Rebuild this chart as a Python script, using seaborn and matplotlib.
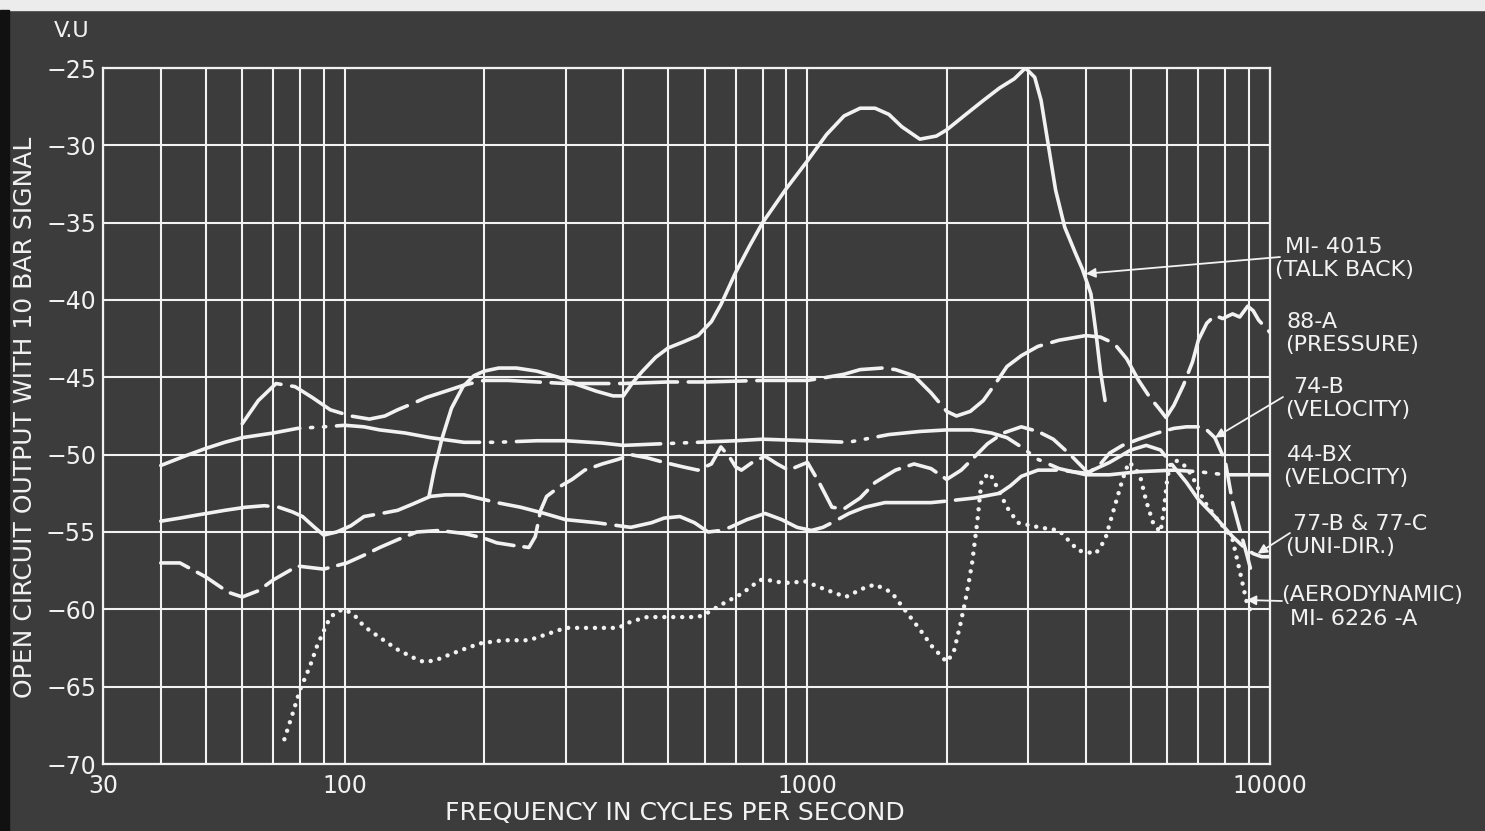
import numpy as np
import pandas as pd
import matplotlib
matplotlib.use("Agg")
import matplotlib.pyplot as plt
import seaborn as sns
from matplotlib.patches import Rectangle

# colours of the old photostat
BG = "#3c3c3c"
INK = "#f2f2f2"

# ---- data (frequency in c/s, output in V.U) ----
mi4015_f = [152, 156, 162, 170, 180, 190, 200, 215, 235, 260, 290, 320, 350, 380, 400, 420, 440,
            470, 500, 540, 580, 620, 650, 700, 750, 800, 900, 1000, 1100, 1200, 1300, 1400, 1500,
            1600, 1750, 1900, 2000, 2200, 2400, 2600, 2800, 2960, 3100, 3200, 3330, 3440, 3600,
            3800, 3930, 4100, 4200, 4300, 4400]
mi4015_v = [-52.7, -51.0, -49.0, -47.0, -45.6, -44.9, -44.6, -44.4, -44.4, -44.6, -45.0, -45.5,
            -45.9, -46.2, -46.2, -45.3, -44.6, -43.7, -43.1, -42.7, -42.3, -41.4, -40.3, -38.2,
            -36.5, -35.0, -32.8, -31.0, -29.3, -28.1, -27.6, -27.6, -28.0, -28.8, -29.6, -29.4,
            -29.0, -28.0, -27.1, -26.3, -25.7, -25.0, -25.6, -27.1, -30.3, -32.9, -35.3, -37.0,
            -38.0, -39.6, -42.0, -44.6, -46.5]

a88_f = [60, 65, 71, 78, 85, 93, 103, 113, 122, 130, 140, 150, 165, 181, 200, 225, 260, 300, 400,
         500, 600, 800, 1000, 1100, 1200, 1300, 1450, 1550, 1700, 1850, 2000, 2100, 2250, 2400,
         2550, 2700, 2900, 3150, 3500, 4000, 4300, 4600, 4900, 5200, 5500, 5750, 5960, 6200,
         6500, 6800, 7000, 7300, 7600, 7900, 8300, 8600, 8950, 9200, 9450, 10000]
a88_v = [-48.0, -46.5, -45.4, -45.6, -46.3, -47.1, -47.5, -47.7, -47.5, -47.1, -46.7, -46.3,
         -45.9, -45.5, -45.2, -45.2, -45.3, -45.4, -45.4, -45.3, -45.3, -45.2, -45.2, -45.0,
         -44.8, -44.5, -44.4, -44.5, -44.9, -46.0, -47.2, -47.5, -47.2, -46.5, -45.4, -44.3,
         -43.6, -43.0, -42.6, -42.3, -42.4, -42.8, -43.8, -45.2, -46.3, -47.0, -47.6, -46.8,
         -45.5, -44.0, -42.6, -41.5, -41.0, -41.2, -40.9, -41.1, -40.4, -40.7, -41.3, -42.1]

b74_f = [40, 44, 50, 56, 60, 65, 70, 79, 90, 101, 110, 119, 130, 143, 160, 181, 200, 213, 235,
         250, 258, 265, 273, 290, 310, 330, 360, 390, 415, 450, 490, 540, 580, 620, 650, 680,
         700, 720, 760, 810, 860, 910, 1000, 1060, 1130, 1200, 1300, 1400, 1550, 1700, 1850,
         2000, 2150, 2270, 2450, 2650, 2900, 3150, 3400, 3700, 4050, 4300, 4500, 4800, 5200,
         5700, 6200, 6600, 7000, 7300, 7600, 8000, 8300, 8600, 8900, 9100]
b74_v = [-57.0, -57.0, -57.9, -58.9, -59.2, -58.8, -58.1, -57.2, -57.4, -57.0, -56.5, -56.0,
         -55.5, -55.0, -54.9, -55.1, -55.4, -55.7, -55.9, -56.0, -55.3, -53.6, -52.7, -52.1,
         -51.6, -51.0, -50.6, -50.3, -50.0, -50.2, -50.5, -50.8, -51.0, -50.6, -49.5, -50.2,
         -50.8, -51.0, -50.5, -50.1, -50.6, -51.0, -50.5, -51.8, -53.4, -53.5, -52.8, -51.8,
         -51.0, -50.6, -50.9, -51.6, -51.0, -50.3, -49.3, -48.6, -48.2, -48.5, -49.0, -50.0,
         -51.2, -50.6, -49.9, -49.4, -49.0, -48.6, -48.3, -48.2, -48.2, -48.4, -48.9, -50.4,
         -53.1, -54.8, -56.4, -57.5]

bx44_f = [40, 45, 50, 55, 60, 70, 79, 90, 100, 110, 119, 135, 153, 181, 213, 260, 300, 360,
          400, 480, 580, 700, 800, 1000, 1225, 1500, 1750, 2000, 2270, 2500, 2700, 2900, 3150,
          3500, 4000, 4500, 5200, 6200, 7000, 8000, 9000, 10000]
bx44_v = [-50.7, -50.1, -49.6, -49.2, -48.9, -48.6, -48.3, -48.2, -48.1, -48.2, -48.4, -48.6,
          -48.9, -49.2, -49.2, -49.1, -49.1, -49.25, -49.4, -49.3, -49.2, -49.1, -49.0, -49.1,
          -49.2, -48.7, -48.5, -48.4, -48.4, -48.6, -48.9, -49.5, -50.3, -50.9, -51.3, -51.3,
          -51.1, -51.0, -51.1, -51.3, -51.3, -51.3]

b77_f = [40, 44, 48, 55, 61, 67, 72, 77, 81, 86, 90, 96, 103, 110, 120, 130, 140, 153, 165, 181,
         200, 213, 240, 270, 300, 350, 415, 460, 490, 530, 570, 610, 650, 680, 740, 810, 880,
         950, 1020, 1080, 1130, 1230, 1330, 1470, 1650, 1850, 2000, 2300, 2600, 2750, 2900,
         3150, 3500, 4000, 4500, 5000, 5400, 5800, 6200, 6600, 7000, 7600, 8300, 8800, 9200,
         9600, 10000]
b77_v = [-54.3, -54.1, -53.9, -53.6, -53.4, -53.3, -53.4, -53.7, -54.0, -54.7, -55.2, -55.0,
         -54.6, -54.0, -53.8, -53.6, -53.2, -52.7, -52.6, -52.6, -52.9, -53.1, -53.4, -53.8,
         -54.2, -54.4, -54.7, -54.4, -54.1, -54.0, -54.4, -55.0, -54.9, -54.7, -54.2, -53.8,
         -54.2, -54.7, -54.9, -54.7, -54.4, -53.8, -53.4, -53.1, -53.1, -53.1, -53.0, -52.8,
         -52.5, -52.0, -51.4, -51.0, -51.0, -51.2, -50.5, -49.7, -49.4, -49.7, -50.8, -51.8,
         -52.9, -54.0, -55.3, -56.0, -56.4, -56.6, -56.6]

mi6226_f = [74, 77, 80, 84, 87, 90, 93, 97, 100, 105, 110, 120, 130, 140, 148, 157, 166, 180,
            196, 220, 250, 280, 300, 350, 390, 415, 450, 520, 580, 610, 660, 720, 790, 820, 890,
            990, 1090, 1210, 1330, 1400, 1520, 1620, 1740, 1860, 2000, 2070, 2140, 2210, 2270,
            2330, 2380, 2480, 2580, 2700, 2850, 3170, 3500, 3850, 4200, 4400, 4600, 4800, 4950,
            5100, 5250, 5400, 5600, 5800, 5900, 6000, 6100, 6300, 6600, 6900, 7200, 7700, 8000,
            8300, 8600, 8900, 9050]
mi6226_v = [-68.4, -66.8, -65.2, -63.7, -62.4, -61.4, -60.5, -60.1, -60.0, -60.4, -61.1, -61.9,
            -62.6, -63.1, -63.4, -63.3, -63.0, -62.6, -62.2, -62.0, -62.0, -61.5, -61.2, -61.2,
            -61.2, -60.8, -60.5, -60.5, -60.5, -60.2, -59.6, -59.0, -58.1, -58.1, -58.3, -58.2,
            -58.7, -59.2, -58.6, -58.4, -58.9, -60.0, -61.2, -62.4, -63.4, -62.8, -61.0, -59.0,
            -57.0, -54.3, -51.6, -51.2, -52.2, -53.4, -54.4, -54.7, -54.9, -56.2, -56.4, -55.5,
            -53.5, -51.6, -50.5, -50.8, -51.5, -53.0, -54.5, -55.0, -53.5, -51.5, -50.5, -50.4,
            -50.8, -51.8, -53.0, -54.2, -54.8, -55.5, -57.5, -59.5, -60.0]

# grid / tick values
x_grid = [30, 40, 50, 60, 70, 80, 90, 100, 200, 300, 400, 500, 600, 700, 800, 900,
          1000, 2000, 3000, 4000, 5000, 6000, 7000, 8000, 9000, 10000]
x_labeled = {30: "30", 100: "100", 1000: "1000", 10000: "10000"}
y_ticks = [-70, -65, -60, -55, -50, -45, -40, -35, -30, -25]

W, H = 1485, 831


def px(x, y):
    # pixel position (from top-left) -> figure fraction
    return x / W, 1 - y / H


sns.set_theme(style="dark", rc={
    "axes.facecolor": BG, "figure.facecolor": BG,
    "axes.edgecolor": INK, "grid.color": INK,
    "text.color": INK, "xtick.color": INK, "ytick.color": INK,
})
plt.rcParams["font.family"] = ["DejaVu Sans"]

fig = plt.figure(figsize=(W / 100, H / 100), dpi=100)
fig.patch.set_facecolor(BG)
# scan borders
fig.patches.append(Rectangle((0, 1 - 10 / H), 1, 10 / H, transform=fig.transFigure,
                             color="#ececec", zorder=0))
fig.patches.append(Rectangle((0, 0), 9 / W, 1 - 10 / H, transform=fig.transFigure,
                             color="#111111", zorder=0))

ax = fig.add_axes([103 / W, 1 - 764 / H, (1270 - 103) / W, (764 - 68) / H])
ax.set_facecolor(BG)

lw = 2.6
curves = [
    (mi4015_f, mi4015_v, "-", lw),
    (a88_f, a88_v, (0, (16, 3)), lw),
    (b74_f, b74_v, (0, (8, 2.8)), lw),
    (bx44_f, bx44_v, (0, (40, 3, 0.6, 3, 0.6, 3)), lw),
    (b77_f, b77_v, (0, (30, 3)), lw),
]
for f, v, ls, w in curves:
    sns.lineplot(x=f, y=v, ax=ax, color=INK, linewidth=w, linestyle=ls,
                 solid_capstyle="round", dash_capstyle="round", legend=False, zorder=3)

sns.lineplot(x=mi6226_f, y=mi6226_v, ax=ax, color=INK, linewidth=3.2,
             linestyle=(0, (0.01, 2.0)), dash_capstyle="round", legend=False, zorder=3)

ax.set_xscale("log")
ax.set_xlim(30, 10000)
ax.set_ylim(-70, -25)
ax.set_xticks(x_grid)
ax.set_xticklabels([x_labeled.get(x, "") for x in x_grid], fontsize=17)
ax.xaxis.set_minor_locator(matplotlib.ticker.NullLocator())
ax.set_yticks(y_ticks)
ax.set_yticklabels(["\u2212" + str(abs(y)) for y in y_ticks], fontsize=17)
ax.tick_params(axis="both", length=0, colors=INK)
ax.tick_params(axis="x", pad=7)
ax.tick_params(axis="y", pad=5)
ax.grid(True, which="major", color=INK, linewidth=1.5, alpha=1)
for s in ax.spines.values():
    s.set_color(INK)
    s.set_linewidth(1.6)
    s.set_visible(True)
ax.set_xlabel("")
ax.set_ylabel("")

# axis titles
fig.text(*px(72, 31), "V.U", fontsize=16, ha="center", va="center", color=INK)
fig.text(*px(675, 813), "FREQUENCY IN CYCLES PER SECOND", fontsize=18,
         ha="center", va="center", color=INK)
fig.text(*px(25, 417), "OPEN CIRCUIT OUTPUT WITH 10 BAR SIGNAL", fontsize=18,
         rotation=90, ha="center", va="center", color=INK)

# curve labels on the right
labels = [
    (1285, 247, "MI- 4015"), (1275, 270, "(TALK BACK)"),
    (1287, 322, "88-A"), (1285, 345, "(PRESSURE)"),
    (1293, 387, "74-B"), (1285, 410, "(VELOCITY)"),
    (1287, 455, "44-BX"), (1283, 478, "(VELOCITY)"),
    (1293, 524, "77-B & 77-C"), (1285, 547, "(UNI-DIR.)"),
    (1281, 595, "(AERODYNAMIC)"), (1290, 619, "MI- 6226 -A"),
]
for x, y, t in labels:
    fig.text(*px(x, y), t, fontsize=16, ha="left", va="center", color=INK)

# leader arrows
arrows = [
    ((1280, 257), (4000, -38.3)),
    ((1283, 397), (7600, -48.9)),
    ((1290, 533), (9400, -56.4)),
    ((1282, 601), (8900, -59.4)),
]
for (x, y), target in arrows:
    ax.annotate("", xy=target, xycoords="data", xytext=px(x, y), textcoords="figure fraction",
                arrowprops=dict(arrowstyle="-|>", color=INK, lw=1.3, mutation_scale=14,
                                shrinkA=0, shrinkB=0), annotation_clip=False)

fig.savefig("out.png", dpi=100, facecolor=fig.get_facecolor())
